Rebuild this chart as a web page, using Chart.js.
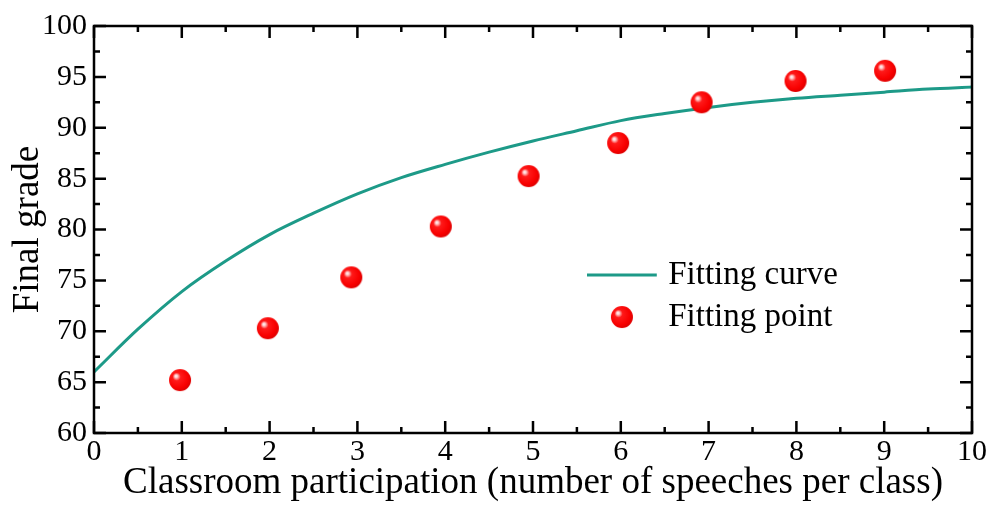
<!DOCTYPE html>
<html><head><meta charset="utf-8">
<script src="https://cdn.jsdelivr.net/npm/chart.js@4/dist/chart.umd.min.js"></script>
<style>html,body{margin:0;padding:0;background:#fff}#wrap{width:988px;height:506px}</style>
</head><body><div id="wrap"><canvas id="c" width="988" height="506"></canvas></div>
<script>
// ---- data ----
const pointX = [0.98, 1.98, 2.93, 3.95, 4.95, 5.97, 6.92, 7.99, 9.01];
const pointY = [65.2, 70.3, 75.3, 80.3, 85.25, 88.5, 92.5, 94.6, 95.6];
const curveX = [0, 0.5, 1, 1.5, 2, 2.5, 3, 3.5, 4, 4.5, 5, 5.5, 6, 6.5, 7, 7.5, 8, 8.5, 9, 9.5, 10];
const curveY = [66.0, 70.2, 73.9, 76.9, 79.5, 81.6, 83.5, 85.1, 86.4, 87.6, 88.7, 89.7, 90.7, 91.4, 92.0, 92.5, 92.9, 93.2, 93.5, 93.8, 94.0];
const xTicks = [0, 1, 2, 3, 4, 5, 6, 7, 8, 9, 10];
const yTicks = [60, 65, 70, 75, 80, 85, 90, 95, 100];
const seriesNames = ['Fitting curve', 'Fitting point'];
const xTitle = 'Classroom participation (number of speeches per class)';
const yTitle = 'Final grade';

const FONT = '"Liberation Serif", "Times New Roman", serif';
const CURVE_COLOR = '#1d9a88';

function sphere(r) {
  const c = document.createElement('canvas');
  c.width = c.height = 2 * r + 2;
  const g = c.getContext('2d');
  const cx = r + 1, cy = r + 1;
  const grad = g.createRadialGradient(cx - r * 0.38, cy - r * 0.38, 0, cx - r * 0.15, cy - r * 0.15, r * 1.15);
  grad.addColorStop(0, '#ffffff');
  grad.addColorStop(0.12, '#ffc8c8');
  grad.addColorStop(0.32, '#ff1a1a');
  grad.addColorStop(0.8, '#f80000');
  grad.addColorStop(1, '#e00000');
  g.fillStyle = grad;
  g.beginPath(); g.arc(cx, cy, r, 0, Math.PI * 2); g.fill();
  return c;
}
const ball = sphere(11);

const framePlugin = {
  id: 'frame',
  afterDraw(chart) {
    const { ctx, chartArea: a, scales } = chart;
    const xs = scales.x, ys = scales.y;
    ctx.save();
    ctx.strokeStyle = '#000';
    ctx.lineWidth = 2.5;
    ctx.lineCap = 'butt';
    ctx.strokeRect(a.left, a.top, a.right - a.left, a.bottom - a.top);
    const MAJ = 12, MIN = 6;
    ctx.beginPath();
    for (let v = xs.min; v <= xs.max + 1e-9; v += 0.5) {
      const px = xs.getPixelForValue(v);
      const len = Math.abs(v - Math.round(v)) < 1e-9 ? MAJ : MIN;
      ctx.moveTo(px, a.bottom); ctx.lineTo(px, a.bottom - len);
      ctx.moveTo(px, a.top); ctx.lineTo(px, a.top + len);
    }
    for (let v = ys.min; v <= ys.max + 1e-9; v += 2.5) {
      const py = ys.getPixelForValue(v);
      const len = Math.abs(v / 5 - Math.round(v / 5)) < 1e-9 ? MAJ : MIN;
      ctx.moveTo(a.left, py); ctx.lineTo(a.left + len, py);
      ctx.moveTo(a.right, py); ctx.lineTo(a.right - len, py);
    }
    ctx.stroke();

    // legend inside plot
    const w = a.right - a.left, h = a.bottom - a.top;
    const lx0 = a.left + 0.5615 * w, lx1 = a.left + 0.641 * w;
    const ly1 = a.top + 0.612 * h, ly2 = a.top + 0.715 * h;
    const tx = a.left + 0.654 * w;
    ctx.strokeStyle = CURVE_COLOR;
    ctx.lineWidth = 3;
    ctx.beginPath(); ctx.moveTo(lx0, ly1); ctx.lineTo(lx1, ly1); ctx.stroke();
    ctx.drawImage(ball, (lx0 + lx1) / 2 - ball.width / 2, ly2 - ball.height / 2);
    ctx.fillStyle = '#000';
    ctx.font = '33px ' + FONT;
    ctx.textAlign = 'left';
    ctx.textBaseline = 'middle';
    ctx.fillText(seriesNames[0], tx, ly1);
    ctx.fillText(seriesNames[1], tx, ly2);
    ctx.restore();
  }
};

new Chart(document.getElementById('c'), {
  type: 'scatter',
  data: {
    datasets: [
      {
        label: seriesNames[0],
        type: 'line',
        data: curveX.map((x, i) => ({ x, y: curveY[i] })),
        borderColor: CURVE_COLOR,
        borderWidth: 3,
        pointRadius: 0,
        fill: false,
        cubicInterpolationMode: 'monotone',
        order: 2
      },
      {
        label: seriesNames[1],
        data: pointX.map((x, i) => ({ x, y: pointY[i] })),
        pointStyle: ball,
        pointRadius: 11,
        order: 1
      }
    ]
  },
  options: {
    responsive: false,
    animation: false,
    devicePixelRatio: 1,
    layout: { padding: { top: 26, right: 16, left: 0, bottom: 0 } },
    plugins: { legend: { display: false }, tooltip: { enabled: false } },
    scales: {
      x: {
        type: 'linear', min: 0, max: 10,
        afterBuildTicks: s => { s.ticks = xTicks.map(v => ({ value: v })); },
        afterFit: s => { s.height = 73; },
        grid: { display: false, drawTicks: false },
        border: { display: false },
        ticks: { color: '#000', font: { family: FONT, size: 30 }, padding: 1, maxRotation: 0, autoSkip: false },
        title: { display: true, text: xTitle, color: '#000', font: { family: FONT, size: 37 }, padding: { top: 0, bottom: 1 } }
      },
      y: {
        type: 'linear', min: 60, max: 100,
        afterBuildTicks: s => { s.ticks = yTicks.map(v => ({ value: v })); },
        afterFit: s => { s.width = 94; },
        grid: { display: false, drawTicks: false },
        border: { display: false },
        ticks: { color: '#000', font: { family: FONT, size: 30 }, padding: 7, autoSkip: false },
        title: { display: true, text: yTitle, color: '#000', font: { family: FONT, size: 37 }, padding: { top: 6, bottom: 0 } }
      }
    }
  },
  plugins: [framePlugin]
});
</script>
</body></html>
